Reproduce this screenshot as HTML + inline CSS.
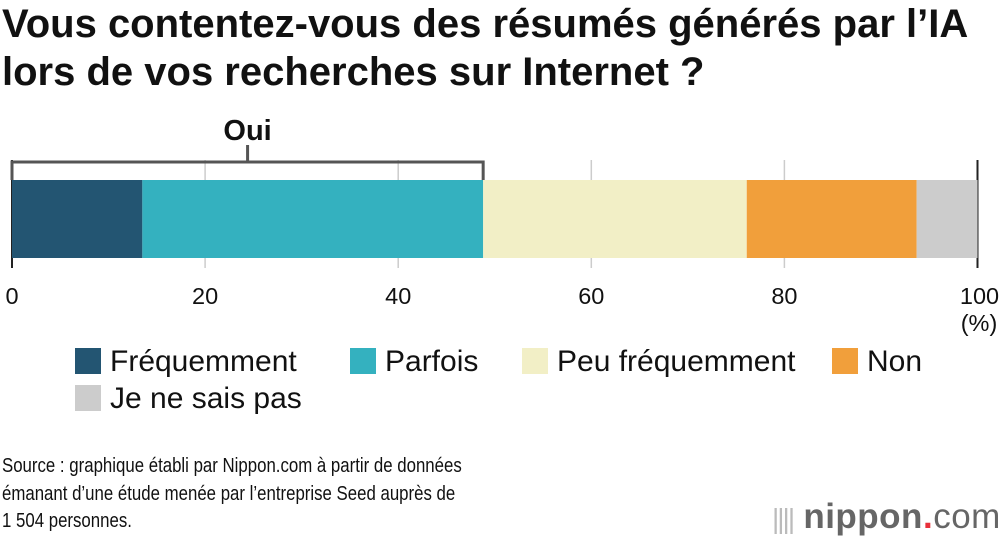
<!DOCTYPE html>
<html><head><meta charset="utf-8"><style>
body{margin:0;width:1000px;height:542px;background:#fff;font-family:"Liberation Sans",Arial,sans-serif;overflow:hidden;position:relative}
.t{position:absolute;left:2px;top:0px;font-size:40px;font-weight:bold;line-height:48px;color:#111;white-space:nowrap}
.src{position:absolute;left:2px;top:452px;font-size:20.5px;line-height:27.5px;color:#111;white-space:nowrap;transform:scaleX(0.82);transform-origin:0 0}
.logo{position:absolute;left:772px;top:497px;font-size:35px;color:#666;font-weight:bold;letter-spacing:0.5px;white-space:nowrap}
</style></head><body>
<div class="t">Vous contentez-vous des résumés générés par l’IA<br>lors de vos recherches sur Internet ?</div>
<svg id="c" width="1000" height="542" style="position:absolute;left:0;top:0"></svg>
<div class="src">Source : graphique établi par Nippon.com à partir de données<br>émanant d’une étude menée par l’entreprise Seed auprès de<br>1 504 personnes.</div>
<div class="logo"><span style="font-weight:normal;color:#bbb;font-size:28px;letter-spacing:-2px">||||</span> nippon<span style="color:#e8303a">.</span><span style="font-weight:normal">com</span></div>
<script>
const categories=["Fréquemment","Parfois","Peu fréquemment","Non","Je ne sais pas"];
const values=[13.5,35.3,27.3,17.6,6.3];
const colors=["#235572","#34b1bf","#f2efc6","#f19f3b","#cccccc"];
const ticks=[0,20,40,60,80,100];
const x0=12,x1=977.5;
const X=v=>x0+(x1-x0)*v/100;
const svg=document.getElementById('c');
const NS="http://www.w3.org/2000/svg";
function mk(t,a){const e=document.createElementNS(NS,t);for(const k in a)e.setAttribute(k,a[k]);svg.appendChild(e);return e;}
ticks.forEach(t=>{
 const l=mk('line',{x1:X(t),x2:X(t),y1:160,y2:268,stroke:t==0||t==100?'#222':'#ccc','stroke-width':t==0||t==100?2:1.5});
 
 
 const tx=mk('text',{x:t==100?X(t)+2:X(t),y:304,'text-anchor':'middle','font-size':23.5,fill:'#111'});
 tx.textContent=t;
 
 
});
const pct=mk('text',{x:979,y:331,'text-anchor':'middle','font-size':23.5,fill:'#111'});pct.textContent='(%)';


let cum=0;
values.forEach((v,i)=>{
 const r=mk('rect',{x:X(cum),y:180,width:X(cum+v)-X(cum),height:78,fill:colors[i]});
 
 
 cum+=v;
});
const oui=values[0]+values[1];
const br=mk('path',{d:`M${X(0)},180 V162 H${X(oui)} V180 M${(X(0)+X(oui))/2},162 V145`,fill:'none',stroke:'#555','stroke-width':3});


const ot=mk('text',{x:(X(0)+X(oui))/2,y:140,'text-anchor':'middle','font-size':29,'font-weight':'bold',fill:'#111'});ot.textContent='Oui';


const lx=[75,350,522,832,75],ly=[348,348,348,348,385];
categories.forEach((c,i)=>{
 const g=document.createElementNS(NS,'g');svg.appendChild(g);
 
 
 const r=document.createElementNS(NS,'rect');
 r.setAttribute('x',lx[i]);r.setAttribute('y',ly[i]);r.setAttribute('width',26);r.setAttribute('height',26);r.setAttribute('fill',colors[i]);g.appendChild(r);
 const t=document.createElementNS(NS,'text');
 t.setAttribute('x',lx[i]+35);t.setAttribute('y',ly[i]+23);t.setAttribute('font-size',30);t.setAttribute('fill','#111');t.textContent=c;g.appendChild(t);
});
</script>
</body></html>
